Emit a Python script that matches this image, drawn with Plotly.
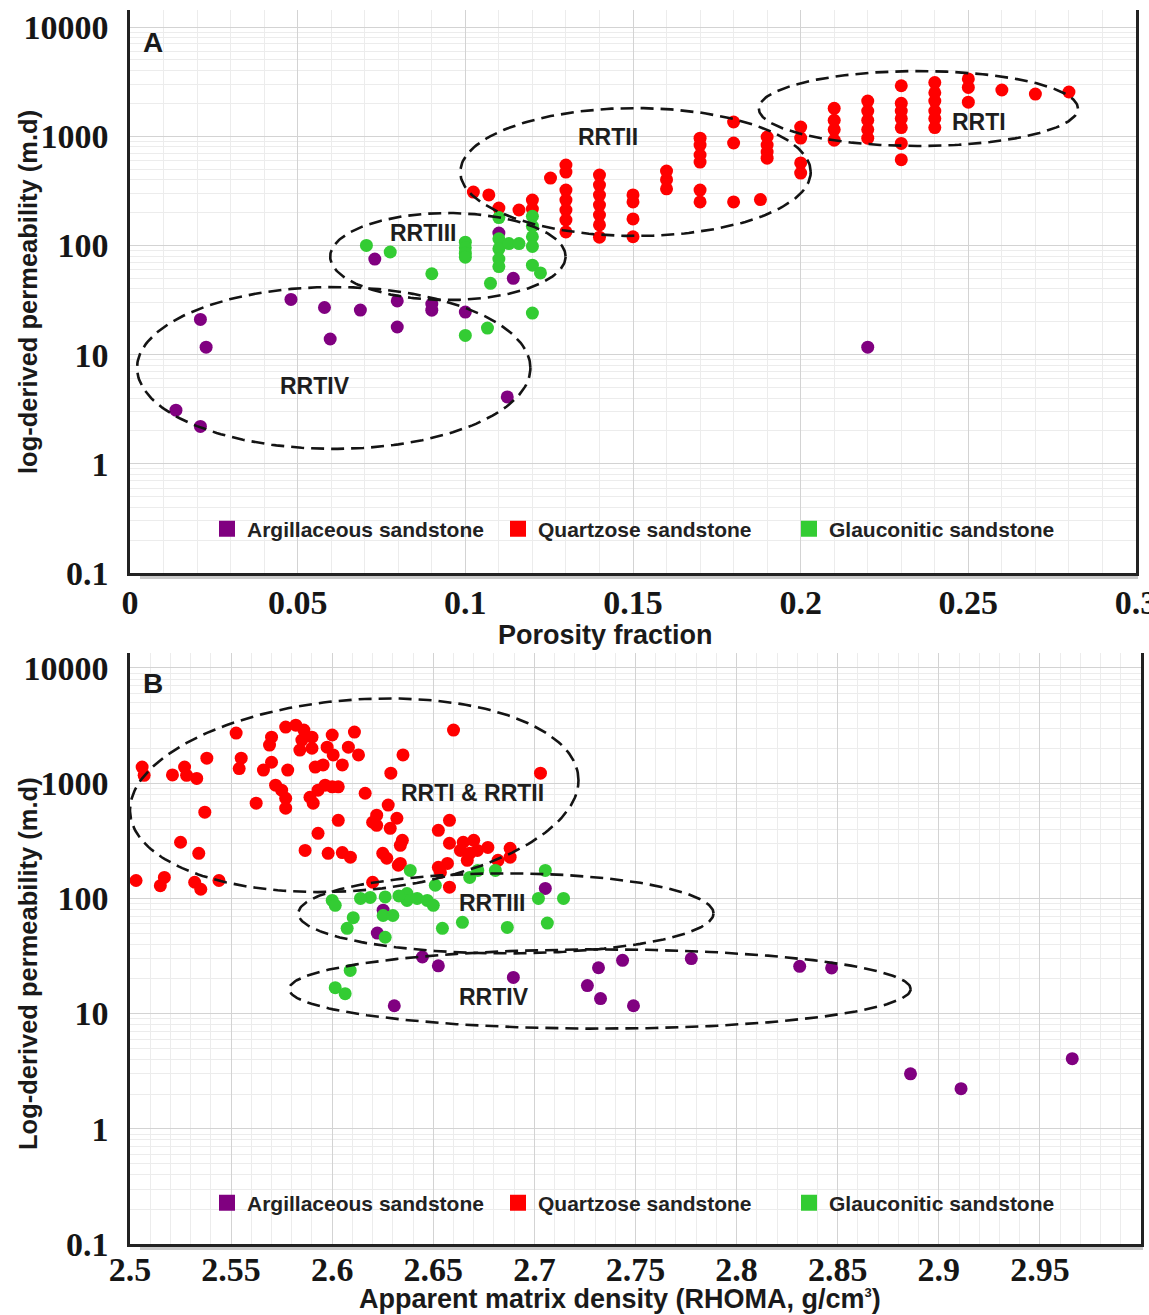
import numpy as np
import plotly.graph_objects as go

W, H = 1149, 1315

# ---------------- Panel A : porosity vs permeability ----------------
A_arg_x = [0.0137, 0.021, 0.021, 0.0227, 0.048, 0.058, 0.0597, 0.0687, 0.073, 0.0797, 0.0797,
           0.09, 0.09, 0.10, 0.11, 0.1143, 0.1125, 0.22]
A_arg_y = [3.1, 2.2, 21, 11.7, 32, 27, 13.9, 25.6, 75, 31, 17.9,
           29, 25.5, 24.5, 130, 50, 4.1, 11.7]

A_qtz_x = [0.1024, 0.107, 0.11, 0.116, 0.12, 0.12, 0.1254,
           0.13, 0.13, 0.13, 0.13, 0.13, 0.13, 0.13,
           0.14, 0.14, 0.14, 0.14, 0.14, 0.14, 0.14,
           0.15, 0.15, 0.15, 0.15,
           0.16, 0.16, 0.16,
           0.17, 0.17, 0.17, 0.17, 0.17, 0.17,
           0.18, 0.18, 0.18,
           0.19, 0.19, 0.19, 0.19, 0.188,
           0.20, 0.20, 0.20, 0.20,
           0.21, 0.21, 0.21, 0.21,
           0.22, 0.22, 0.22, 0.22, 0.22,
           0.23, 0.23, 0.23, 0.23, 0.23, 0.23, 0.23,
           0.24, 0.24, 0.24, 0.24, 0.24, 0.24,
           0.25, 0.25, 0.25,
           0.26, 0.27, 0.28]
A_qtz_y = [308, 290, 220, 211, 260, 215, 414,
           545, 470, 321, 260, 211, 171, 133,
           441, 357, 289, 234, 190, 154, 119,
           290, 250, 175, 120,
           480, 400, 330,
           960, 830, 673, 580, 321, 250,
           1350, 867, 250,
           984, 830, 716, 630, 263,
           1213, 962, 569, 460,
           1800, 1400, 1150, 920,
           2100, 1700, 1400, 1150, 960,
           2900, 2000, 1700, 1450, 1200, 860, 610,
           3100, 2500, 2100, 1700, 1450, 1200,
           3350, 2800, 2050,
           2650, 2430, 2540]

A_gla_x = [0.0705, 0.0776, 0.09, 0.10, 0.10, 0.10, 0.10, 0.10, 0.1066, 0.1075,
           0.11, 0.11, 0.11, 0.11, 0.11, 0.113, 0.116,
           0.12, 0.12, 0.12, 0.12, 0.12, 0.1224, 0.12]
A_gla_y = [100, 87, 55, 107, 95, 85, 78, 15, 17.5, 45,
           180, 115, 93, 75, 64, 104, 104,
           185, 150, 120, 98, 66, 56, 24]

# ---------------- Panel B : RHOMA vs permeability ----------------
B_arg_x = [2.6252, 2.6223, 2.6446, 2.6525, 2.6896, 2.6307, 2.7054, 2.7317, 2.7436, 2.7262,
           2.7327, 2.749, 2.7776, 2.8312, 2.847, 2.886, 2.911, 2.966]
B_arg_y = [79, 50, 31, 26, 20.6, 11.7, 122, 25, 29, 17.5,
           13.5, 11.7, 30, 25.7, 24.9, 3.0, 2.23, 4.06]

B_qtz_x = [2.506, 2.507, 2.503, 2.515, 2.517, 2.521, 2.527, 2.528, 2.533, 2.538,
           2.537, 2.525, 2.534, 2.532, 2.535, 2.544, 2.5525, 2.555, 2.554, 2.5624,
           2.570, 2.569, 2.566, 2.570, 2.577, 2.582, 2.586, 2.585, 2.590, 2.584,
           2.590, 2.578, 2.572, 2.575, 2.577, 2.577, 2.5916, 2.5955, 2.600, 2.5975,
           2.6005, 2.605, 2.611, 2.608, 2.613, 2.5965, 2.600, 2.603, 2.593, 2.589,
           2.5906, 2.603, 2.593, 2.5866, 2.598, 2.605, 2.609, 2.6163, 2.620, 2.635,
           2.629, 2.660, 2.703, 2.6277, 2.622, 2.632, 2.622, 2.6287, 2.6347, 2.6337,
           2.625, 2.627, 2.6337, 2.620, 2.658, 2.6525, 2.658, 2.6648, 2.670, 2.6634,
           2.668, 2.6718, 2.6668, 2.677, 2.688, 2.688, 2.682, 2.6525, 2.657, 2.6535,
           2.658, 2.6327]
B_qtz_y = [1380, 1170, 143, 129, 152, 1180, 1380, 1170, 1100, 1650,
           560, 307, 246, 138, 120, 143, 2720, 1650, 1340, 670,
           2510, 2140, 1300, 1520, 3070, 3190, 2890, 2365, 2510, 1940,
           2010, 1300, 960, 870, 740, 607, 1380, 1440, 2620, 2055,
           1760, 1440, 2780, 2055, 1760, 960, 930, 930, 870, 755,
           670, 476, 367, 261, 246, 250, 228, 818, 458, 1760,
           1222, 2890, 1222, 645, 528, 496, 431, 406, 319, 289,
           246, 223, 201, 138, 476, 390, 301, 307, 319, 261,
           246, 261, 214, 277, 272, 228, 214, 186, 201, 168,
           125, 194]

B_gla_x = [2.6386, 2.651, 2.668, 2.672, 2.6807, 2.7054, 2.600, 2.6015, 2.6188, 2.6262,
           2.637, 2.637, 2.642, 2.647, 2.650, 2.6104, 2.6074, 2.6252, 2.630, 2.6262,
           2.6545, 2.6644, 2.6866, 2.702, 2.7144, 2.7064, 2.6089, 2.6015, 2.6064, 2.633,
           2.614]
B_gla_y = [175, 130, 152, 175, 175, 175, 96, 87, 102, 103,
           110, 96, 100, 96, 87, 68, 55, 71, 71, 46,
           55, 62, 56, 100, 100, 61, 23.7, 16.8, 14.9, 105,
           100]

# ticks
A_xticks = [0, 0.05, 0.1, 0.15, 0.2, 0.25, 0.3]
A_xtext = ["0", "0.05", "0.1", "0.15", "0.2", "0.25", "0.3"]
B_xticks = [2.5, 2.55, 2.6, 2.65, 2.7, 2.75, 2.8, 2.85, 2.9, 2.95]
B_xtext = ["2.5", "2.55", "2.6", "2.65", "2.7", "2.75", "2.8", "2.85", "2.9", "2.95"]
Y_ticks = [0.1, 1, 10, 100, 1000, 10000]
Y_text = ["0.1", "1", "10", "100", "1000", "10000"]

SERIES = ["Argillaceous sandstone", "Quartzose sandstone", "Glauconitic sandstone"]
COLORS = ["#800080", "#ff0000", "#33cc33"]

# Reservoir rock type envelopes: (x_min, x_max, y_min, y_max, rise in decades)
ELL_A = [(0.0021, 0.1194, 1.37, 41.6, 0.0),
         (0.0597, 0.1299, 31.6, 198, 0.0),
         (0.0985, 0.2030, 122, 1811, 0.0),
         (0.1875, 0.2827, 813, 3955, 0.0)]
ELL_B = [(2.5000, 2.7218, 116, 5320, 0.26),
         (2.5832, 2.7886, 33.3, 165, 0.0),
         (2.5787, 2.8861, 7.4, 36.1, 0.0)]
LAB_A = [("RRTIV", 0.0552, 5.15), ("RRTIII", 0.0875, 130), ("RRTII", 0.1424, 984), ("RRTI", 0.2531, 1349)]
LAB_B = [("RRTI & RRTII", 2.6693, 818), ("RRTIII", 2.6792, 92), ("RRTIV", 2.6802, 13.8)]

SANS = "Liberation Sans, Arial, sans-serif"
SERIF = "Liberation Serif, Times New Roman, serif"


def ellipse(x0, x1, y0, y1, rise, n=240):
    t = np.linspace(0, 2 * np.pi, n)
    cx, a = (x0 + x1) / 2, (x1 - x0) / 2
    l0, l1 = np.log10(y0), np.log10(y1)
    cy, b = (l0 + l1) / 2, (l1 - l0) / 2
    xs = cx + a * np.cos(t)
    ly = cy + b * np.sin(t) + (rise / 2) * np.cos(t)
    return xs, 10 ** ly


fig = go.Figure()

panels = [
    ("x", "y", "legend", [(A_arg_x, A_arg_y), (A_qtz_x, A_qtz_y), (A_gla_x, A_gla_y)], ELL_A),
    ("x2", "y2", "legend2", [(B_arg_x, B_arg_y), (B_qtz_x, B_qtz_y), (B_gla_x, B_gla_y)], ELL_B),
]
for xa, ya, leg, series, ells in panels:
    for name, col, (xs, ys) in zip(SERIES, COLORS, series):
        fig.add_trace(go.Scatter(x=xs, y=ys, mode="markers", name=name, xaxis=xa, yaxis=ya,
                                 marker=dict(color=col, size=13, line=dict(width=0)),
                                 showlegend=False))
    for e in ells:
        ex, ey = ellipse(*e)
        fig.add_trace(go.Scatter(x=ex, y=ey, mode="lines", xaxis=xa, yaxis=ya, hoverinfo="skip",
                                 line=dict(color="#141414", width=2.6, dash="13px,7px"),
                                 showlegend=False))
    for name, col in zip(SERIES, COLORS):
        fig.add_trace(go.Scatter(x=[None], y=[None], mode="markers", name=name, xaxis=xa, yaxis=ya,
                                 marker=dict(color=col, size=20, symbol="square"),
                                 legend=leg, showlegend=True))


def PX(x):
    return x / W


def PY(y):
    return 1 - y / H


grid_major = "#d3d3d3"
grid_minor = "#ececec"


def xaxis_cfg(domain, rng, ticks, text, anchor, tick0, standoff):
    return dict(domain=domain, range=rng, anchor=anchor, tickmode="array", tickvals=ticks, ticktext=text,
                automargin=False, ticklabeloverflow="allow",
                showgrid=True, gridcolor=grid_major, gridwidth=1.3, zeroline=False,
                minor=dict(dtick=0.01, tick0=tick0, showgrid=True, gridcolor=grid_minor, gridwidth=1),
                showline=True, linecolor="#222", linewidth=2.5, mirror=False, ticks="",
                ticklabelstandoff=standoff,
                tickfont=dict(family=SERIF, size=34, color="#161616", weight="bold"))


def yaxis_cfg(domain, rng, anchor):
    return dict(domain=domain, range=rng, anchor=anchor, type="log", tickmode="array",
                tickvals=Y_ticks, ticktext=Y_text, automargin=False,
                showgrid=True, gridcolor=grid_major, gridwidth=1.3, zeroline=False,
                minor=dict(dtick="D1", showgrid=True, gridcolor=grid_minor, gridwidth=1),
                showline=True, linecolor="#222", linewidth=2.5, mirror=True, ticks="",
                ticklabelstandoff=12,
                tickfont=dict(family=SERIF, size=34, color="#161616", weight="bold"))


legend_font = dict(family=SANS, size=21, color="#222", weight="bold")
title_font_x = dict(family=SANS, size=27, color="#1a1a1a", weight="bold")
title_font_y = dict(family=SANS, size=25.5, color="#1a1a1a", weight="bold")

annotations = [
    dict(text="<b>A</b>", x=PX(153), y=PY(42), xref="paper", yref="paper", showarrow=False,
         xanchor="center", yanchor="middle", font=dict(family=SANS, size=28, color="#1a1a1a")),
    dict(text="<b>B</b>", x=PX(153), y=PY(683), xref="paper", yref="paper", showarrow=False,
         xanchor="center", yanchor="middle", font=dict(family=SANS, size=28, color="#1a1a1a")),
    # axis titles
    dict(text="Porosity fraction", x=PX(605), y=PY(635), xref="paper", yref="paper", showarrow=False,
         xanchor="center", yanchor="middle", font=title_font_x),
    dict(text="Apparent matrix density (RHOMA, g/cm<sup><span style=\"font-size:13px\">3</span></sup>)",
         x=PX(620), y=PY(1299), xref="paper", yref="paper", showarrow=False,
         xanchor="center", yanchor="middle", font=title_font_x),
    dict(text="log-derived permeability (m.d)", x=PX(28), y=PY(292), xref="paper", yref="paper",
         showarrow=False, xanchor="center", yanchor="middle", textangle=-90, font=title_font_y),
    dict(text="Log-derived permeability (m.d)", x=PX(28), y=PY(964), xref="paper", yref="paper",
         showarrow=False, xanchor="center", yanchor="middle", textangle=-90, font=title_font_y),
]
for txt, x, y in LAB_A:
    annotations.append(dict(text=txt, x=x, y=np.log10(y), xref="x", yref="y", showarrow=False,
                            font=dict(family=SANS, size=23, color="#1e1e1e", weight="bold")))
for txt, x, y in LAB_B:
    annotations.append(dict(text=txt, x=x, y=np.log10(y), xref="x2", yref="y2", showarrow=False,
                            font=dict(family=SANS, size=23, color="#1e1e1e", weight="bold")))

shapes = [
    # white panels behind the legends (hide the grid)
    dict(type="rect", xref="paper", yref="paper", x0=PX(207), x1=PX(1129), y0=PY(560), y1=PY(487),
         fillcolor="white", line=dict(width=0), layer="between"),
    dict(type="rect", xref="paper", yref="paper", x0=PX(207), x1=PX(1127), y0=PY(1233), y1=PY(1160),
         fillcolor="white", line=dict(width=0), layer="between"),
    # soft shadows under the bottom axes
    dict(type="line", xref="paper", yref="paper", x0=PX(140), x1=PX(1138), y0=PY(577), y1=PY(577),
         line=dict(color="#c9c9c9", width=4), layer="below"),
    dict(type="line", xref="paper", yref="paper", x0=PX(140), x1=PX(1143), y0=PY(1248), y1=PY(1248),
         line=dict(color="#c9c9c9", width=4), layer="below"),
]

fig.update_layout(
    width=W, height=H, margin=dict(l=0, r=0, t=0, b=0, autoexpand=False),
    paper_bgcolor="white", plot_bgcolor="white",
    xaxis=xaxis_cfg([PX(130), PX(1136)], [0, 0.3], A_xticks, A_xtext, "y", 0, -3),
    yaxis=yaxis_cfg([PY(573), PY(10)], [-1, 4.156], "x"),
    xaxis2=xaxis_cfg([PX(130), PX(1141)], [2.5, 3.0], B_xticks, B_xtext, "y2", 2.5, -7),
    yaxis2=yaxis_cfg([PY(1244), PY(653)], [-1, 4.13], "x2"),
    legend=dict(orientation="h", x=PX(207), xanchor="left", y=PY(529), yanchor="middle",
                bgcolor="rgba(0,0,0,0)", font=legend_font, entrywidth=246, entrywidthmode="pixels",
                itemsizing="trace", traceorder="normal"),
    legend2=dict(orientation="h", x=PX(207), xanchor="left", y=PY(1203), yanchor="middle",
                 bgcolor="rgba(0,0,0,0)", font=legend_font, entrywidth=246, entrywidthmode="pixels",
                 itemsizing="trace", traceorder="normal"),
    annotations=annotations,
    shapes=shapes,
)

fig.write_html("out.html")
